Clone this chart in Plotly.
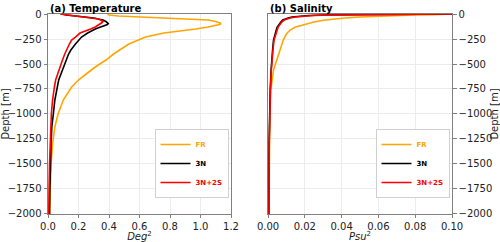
import plotly.graph_objects as go

# ---- Data ----
temp_depth = [0, 10, 20, 30, 40, 50, 60, 75, 85, 95, 105, 115, 130, 150, 170, 190, 230, 260, 300, 360,
              400, 460, 530, 600, 660, 730, 800, 860, 1000, 1130, 1300, 1500, 1750, 2000]
temp_FR = [0.39, 0.40, 0.46, 0.62, 0.82, 0.97, 1.05, 1.10, 1.125, 1.135, 1.125, 1.10, 1.05, 0.97, 0.86, 0.76,
           0.64, 0.59, 0.53, 0.47, 0.43, 0.38, 0.31, 0.25, 0.20, 0.155, 0.125, 0.10, 0.066, 0.045,
           0.03, 0.02, 0.015, 0.012]
temp_3N = [0.09, 0.12, 0.18, 0.25, 0.30, 0.33, 0.36, 0.38, 0.39, 0.395, 0.39, 0.375, 0.345, 0.31, 0.28,
           0.26, 0.22, 0.20, 0.18, 0.15, 0.135, 0.12, 0.10, 0.085, 0.07, 0.06, 0.052, 0.045, 0.035,
           0.025, 0.02, 0.015, 0.012, 0.01]
temp_3N2S = [0.08, 0.13, 0.20, 0.26, 0.30, 0.33, 0.345, 0.36, 0.355, 0.345, 0.335, 0.325, 0.31, 0.28, 0.24,
             0.21, 0.18, 0.155, 0.14, 0.12, 0.11, 0.095, 0.08, 0.065, 0.05, 0.042, 0.035, 0.03,
             0.022, 0.018, 0.013, 0.01, 0.007, 0.005]

sal_depth = [0, 3, 6, 10, 15, 20, 30, 40, 60, 80, 100, 130, 160, 200, 260, 360, 460, 560, 760,
             1000, 1300, 1600, 2000]
sal_FR = [0.1, 0.097, 0.09, 0.08, 0.07, 0.06, 0.05, 0.042, 0.031, 0.025, 0.021, 0.015, 0.012,
          0.010, 0.0083, 0.0065, 0.0049, 0.003, 0.0015, 0.001, 0.0008, 0.0007, 0.0006]
sal_3N = [0.1, 0.06, 0.04, 0.03, 0.022, 0.018, 0.013, 0.011, 0.008, 0.007, 0.006, 0.005, 0.0045,
          0.004, 0.003, 0.0025, 0.002, 0.0017, 0.0012, 0.0008, 0.0006, 0.0005, 0.0004]
sal_3N2S = [0.1, 0.065, 0.045, 0.034, 0.025, 0.02, 0.015, 0.012, 0.0088, 0.0075, 0.0065, 0.0055,
            0.005, 0.0043, 0.0033, 0.0027, 0.0022, 0.0018, 0.0013, 0.0009, 0.0007, 0.0006, 0.0005]

series_names = ["FR", "3N", "3N+2S"]
series_colors = ["orange", "black", "red"]

# ---- Figure ----
fig = go.Figure()
FONT = "DejaVu Sans"

temp_sets = [temp_FR, temp_3N, temp_3N2S]
sal_sets = [sal_FR, sal_3N, sal_3N2S]
for name, color, vals in zip(series_names, series_colors, temp_sets):
    fig.add_trace(go.Scatter(
        x=vals, y=[-d for d in temp_depth], mode="lines",
        line=dict(color=color, width=1.6),
        name=f"<span style='color:{color}'><b>{name}</b></span>",
        xaxis="x", yaxis="y", legend="legend"))
for name, color, vals in zip(series_names, series_colors, sal_sets):
    fig.add_trace(go.Scatter(
        x=vals, y=[-d for d in sal_depth], mode="lines",
        line=dict(color=color, width=1.6),
        name=f"<span style='color:{color}'><b>{name}</b></span>",
        xaxis="x2", yaxis="y2", legend="legend2"))

axis_common = dict(
    showline=True, linecolor="#808080", linewidth=1, mirror=True,
    ticks="outside", ticklen=3.5, tickcolor="#808080", tickwidth=1,
    showgrid=True, gridcolor="#ececec", gridwidth=1, zeroline=False,
    tickfont=dict(family=FONT, size=10, color="#222"), automargin=False,
)
yvals = list(range(-2000, 1, 250))

fig.update_layout(
    width=500, height=242,
    margin=dict(l=0, r=0, t=0, b=0),
    paper_bgcolor="white", plot_bgcolor="white",
    font=dict(family=FONT, size=10, color="#222"),
    xaxis=dict(domain=[0.096, 0.462], range=[0, 1.2], dtick=0.2, tickformat=".1f",
               anchor="y", title=dict(text="<i>Deg</i><sup>2</sup>", standoff=2,
                                      font=dict(family=FONT, size=10)), **axis_common),
    yaxis=dict(domain=[0.116, 0.942], range=[-2000, 0], tickvals=yvals,
               anchor="x", title=dict(text="Depth [m]", standoff=4,
                                      font=dict(family=FONT, size=10)), **axis_common),
    xaxis2=dict(domain=[0.536, 0.904], range=[0, 0.1], dtick=0.02, tickformat=".2f",
                anchor="y2", title=dict(text="<i>Psu</i><sup>2</sup>", standoff=2,
                                        font=dict(family=FONT, size=10)), **axis_common),
    yaxis2=dict(domain=[0.116, 0.942], range=[-2000, 0], tickvals=yvals, side="right",
                anchor="x2", title=dict(text="Depth [m]", standoff=4,
                                        font=dict(family=FONT, size=10)), **axis_common),
    legend=dict(x=0.457, y=0.182, xanchor="right", yanchor="bottom",
                bgcolor="white", bordercolor="#d0d0d0", borderwidth=1,
                font=dict(family=FONT, size=7), itemwidth=30, tracegroupgap=0),
    legend2=dict(x=0.899, y=0.182, xanchor="right", yanchor="bottom",
                 bgcolor="white", bordercolor="#d0d0d0", borderwidth=1,
                 font=dict(family=FONT, size=7), itemwidth=30, tracegroupgap=0),
    annotations=[
        dict(text="<b>(a) Temperature</b>", x=0.096, y=0.942, xref="paper", yref="paper",
             xanchor="left", yanchor="bottom", showarrow=False, yshift=-2,
             font=dict(family=FONT, size=10, color="black")),
        dict(text="<b>(b) Salinity</b>", x=0.536, y=0.942, xref="paper", yref="paper",
             xanchor="left", yanchor="bottom", showarrow=False, yshift=-2,
             font=dict(family=FONT, size=10, color="black")),
    ],
)

fig.write_html("out.html", config={"displayModeBar": False},
               post_script="document.body.style.margin='0';document.body.style.overflow='hidden';")
